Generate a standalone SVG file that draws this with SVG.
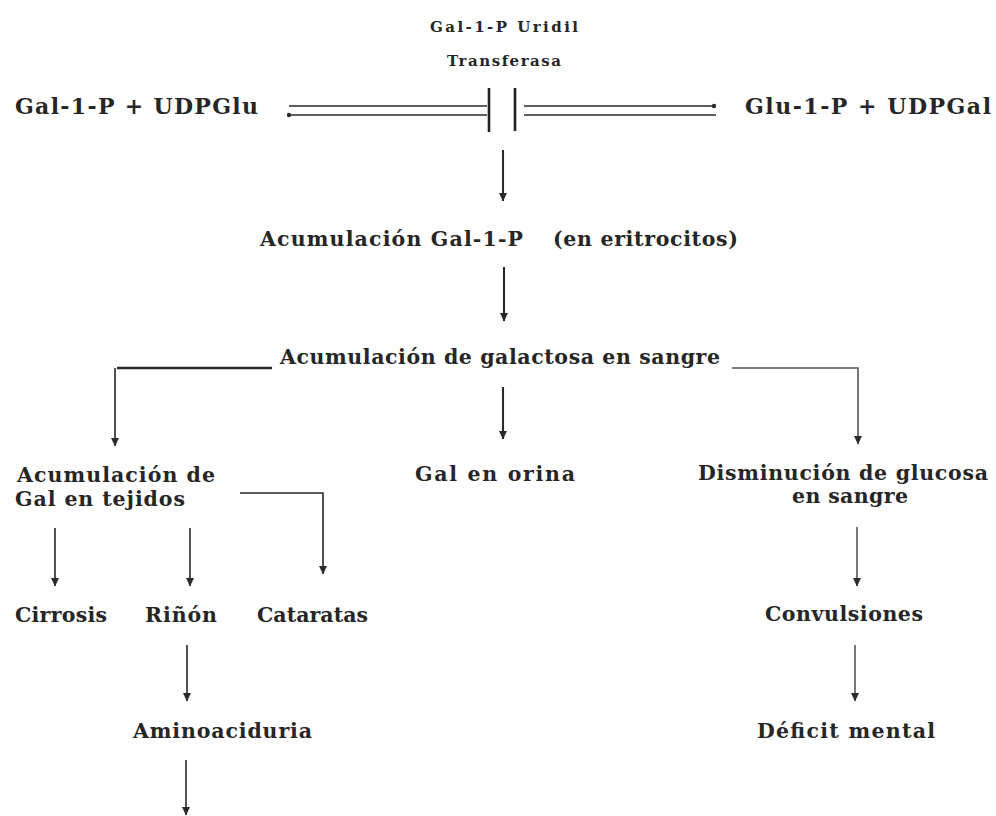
<svg xmlns="http://www.w3.org/2000/svg" width="996" height="816" viewBox="0 0 996 816">
<style>
text{font-family:"DejaVu Serif","Liberation Serif",serif;font-weight:bold;fill:#262626;}
.b{font-size:20.5px;}
.l{font-size:22px;}
.s{font-size:15px;}
.c{fill:none;stroke:#2a2a2a;stroke-width:1.6;}
.m{stroke-width:2.1;}
.w{stroke-width:2.4;}
.g{stroke:#555;}
.bar{stroke:#222;stroke-width:2.6;}
</style>
<defs>
<marker id="ah" markerUnits="userSpaceOnUse" markerWidth="9" markerHeight="9" refX="8" refY="4.5" orient="auto" viewBox="0 0 9 9">
<path d="M0,0.5 L8.5,4.5 L0,8.5 Z" fill="#2a2a2a"/>
</marker>
<marker id="dot" markerUnits="userSpaceOnUse" markerWidth="6" markerHeight="6" refX="3" refY="3" viewBox="0 0 6 6">
<circle cx="3" cy="3" r="2.2" fill="#2a2a2a"/>
</marker>
</defs>
<rect width="996" height="816" fill="#ffffff"/>

<g id="enzima">
<text class="s" x="430" y="32" textLength="148" lengthAdjust="spacing">Gal-1-P Uridil</text>
<text class="s" x="447" y="66" textLength="114" lengthAdjust="spacing">Transferasa</text>
</g>
<g id="sustratos">
<text class="l" x="15" y="114" textLength="243" lengthAdjust="spacing">Gal-1-P + UDPGlu</text>
</g>
<g id="productos">
<text class="l" x="745" y="114" textLength="246" lengthAdjust="spacing">Glu-1-P + UDPGal</text>
</g>
<g id="acum-gal1p">
<text class="b" x="260" y="246" textLength="263" lengthAdjust="spacing">Acumulación Gal-1-P</text>
<text class="b" x="553" y="246" textLength="185" lengthAdjust="spacing">(en eritrocitos)</text>
</g>
<g id="acum-sangre">
<text class="b" x="280" y="364" textLength="440" lengthAdjust="spacing">Acumulación de galactosa en sangre</text>
</g>
<g id="acum-tejidos">
<text class="b" x="17" y="482" textLength="198" lengthAdjust="spacing">Acumulación de</text>
<text class="b" x="15" y="506" textLength="170" lengthAdjust="spacing">Gal en tejidos</text>
</g>
<g id="orina">
<text class="b" x="415" y="481" textLength="160" lengthAdjust="spacing">Gal en orina</text>
</g>
<g id="disminucion">
<text class="b" x="698" y="480" textLength="290" lengthAdjust="spacing">Disminución de glucosa</text>
<text class="b" x="792" y="503" textLength="116" lengthAdjust="spacing">en sangre</text>
</g>
<g id="cirrosis">
<text class="b" x="15" y="622" textLength="92" lengthAdjust="spacing">Cirrosis</text>
</g>
<g id="rinon">
<text class="b" x="145" y="622" textLength="72" lengthAdjust="spacing">Riñón</text>
</g>
<g id="cataratas">
<text class="b" x="257" y="622" textLength="111" lengthAdjust="spacing">Cataratas</text>
</g>
<g id="convulsiones">
<text class="b" x="765" y="621" textLength="158" lengthAdjust="spacing">Convulsiones</text>
</g>
<g id="aminoaciduria">
<text class="b" x="133" y="738" textLength="179" lengthAdjust="spacing">Aminoaciduria</text>
</g>
<g id="deficit">
<text class="b" x="757" y="738" textLength="178" lengthAdjust="spacing">Déficit mental</text>
</g>

<g id="connectors">
<line class="c" x1="289" y1="106" x2="487" y2="106"/>
<line class="c" x1="289" y1="115" x2="487" y2="115" marker-start="url(#dot)"/>
<line class="c" x1="524" y1="106" x2="714" y2="106" marker-end="url(#dot)"/>
<line class="c" x1="524" y1="115" x2="716" y2="115"/>
<line class="bar" x1="489" y1="88" x2="489" y2="132"/>
<line class="bar" x1="515" y1="88" x2="515" y2="131"/>
<line class="c m" x1="503" y1="150" x2="503" y2="201" marker-end="url(#ah)"/>
<line class="c m" x1="504" y1="267" x2="504" y2="321" marker-end="url(#ah)"/>
<path class="c w" d="M272,368 H117"/>
<path class="c" d="M115,368 V446" marker-end="url(#ah)"/>
<line class="c m" x1="503" y1="387" x2="503" y2="439" marker-end="url(#ah)"/>
<path class="c g" d="M732,368 H858 V444" marker-end="url(#ah)"/>
<path class="c" d="M240,493 H323 V574" marker-end="url(#ah)"/>
<line class="c" x1="55" y1="528" x2="55" y2="586" marker-end="url(#ah)"/>
<line class="c" x1="190" y1="528" x2="190" y2="586" marker-end="url(#ah)"/>
<line class="c" x1="187" y1="645" x2="187" y2="701" marker-end="url(#ah)"/>
<line class="c" x1="186" y1="760" x2="186" y2="815" marker-end="url(#ah)"/>
<line class="c g" x1="857" y1="527" x2="857" y2="586" marker-end="url(#ah)"/>
<line class="c g" x1="855" y1="645" x2="855" y2="701" marker-end="url(#ah)"/>
</g>
</svg>
